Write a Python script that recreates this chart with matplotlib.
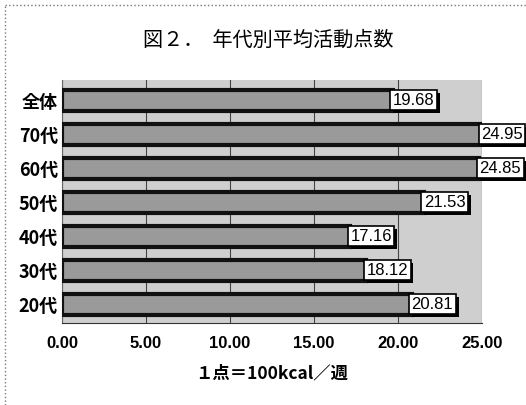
import numpy as np
import matplotlib.pyplot as plt
import matplotlib.patheffects as pe
from matplotlib.lines import Line2D

plt.rcParams['font.family'] = ['Noto Sans CJK JP', 'DejaVu Sans']
num_font = ['Liberation Sans', 'Noto Sans CJK JP']

# データ（上から順）
categories = ['全体', '70代', '60代', '50代', '40代', '30代', '20代']
values = [19.68, 24.95, 24.85, 21.53, 17.16, 18.12, 20.81]
xticks = [0, 5, 10, 15, 20, 25]
xtick_labels = ['0.00', '5.00', '10.00', '15.00', '20.00', '25.00']

W, H = 526, 405
fig = plt.figure(figsize=(W / 100, H / 100), dpi=100)

# 外枠（上・左）
fig.add_artist(Line2D([5 / W, 1], [1 - 5 / H, 1 - 5 / H], color='#777777', lw=1, ls=':'))
fig.add_artist(Line2D([5 / W, 5 / W], [0, 1 - 5 / H], color='#777777', lw=1, ls=':'))

fig.text(0.51, 1 - 40 / H, '図２．  年代別平均活動点数', ha='center', va='center', fontsize=14.5)

ax = fig.add_axes([62 / W, 1 - 323 / H, (482 - 62) / W, (323 - 80) / H])
ax.set_facecolor('#cfcfcf')

y = np.arange(len(categories))
ax.barh(y, values, height=0.6, color='#9a9a9a', edgecolor='#111111', linewidth=3, zorder=3)

for yi, v in zip(y, values):
    t = ax.text(v, yi, f'{v:.2f}', ha='left', va='center', fontsize=12, family=num_font, zorder=5,
                bbox=dict(boxstyle='square,pad=0.15', fc='white', ec='black', lw=1.2))
    t.get_bbox_patch().set_path_effects([pe.SimplePatchShadow(offset=(2, -2), shadow_rgbFace='black', alpha=1),
                                         pe.Normal()])

ax.set_xlim(0, 25)
ax.set_ylim(len(categories) - 0.45, -0.6)
ax.set_yticks(y)
ax.set_yticklabels(categories, fontsize=13, fontweight='bold')
ax.set_xticks(xticks)
ax.set_xticklabels(xtick_labels, fontsize=12, fontweight='bold', family=num_font)
ax.tick_params(axis='both', length=0, pad=3)
ax.tick_params(axis='x', pad=9)
ax.grid(axis='x', color='#444444', lw=0.8, zorder=1)
for s in ['top', 'right']:
    ax.spines[s].set_visible(False)
ax.spines['left'].set_color('#666666')
ax.spines['bottom'].set_color('#333333')

ax.set_xlabel('１点＝100kcal／週', fontsize=12.5, fontweight='bold', labelpad=10)

fig.savefig('out.png', dpi=100)
